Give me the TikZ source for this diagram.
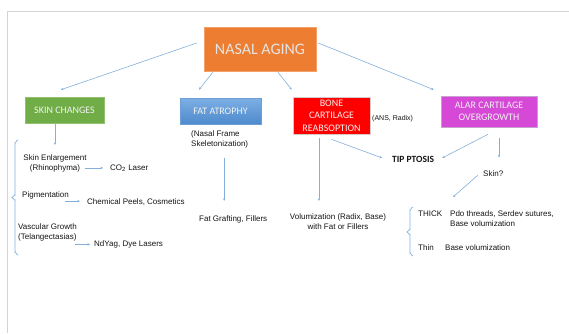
\documentclass[tikz,border=0pt]{standalone}
\usepackage{fontspec}
\setmainfont{Liberation Sans}
\newfontfamily\calib{Carlito}
\usetikzlibrary{arrows.meta,calc}
\definecolor{orangebox}{RGB}{237,125,49}
\definecolor{orangeedge}{RGB}{243,160,105}
\definecolor{greenbox}{RGB}{112,173,71}
\definecolor{greenedge}{RGB}{145,192,110}
\definecolor{fattop}{RGB}{125,175,228}
\definecolor{fatbot}{RGB}{78,138,205}
\definecolor{fatedge}{RGB}{110,160,215}
\definecolor{magbox}{RGB}{214,72,214}
\definecolor{magedge}{RGB}{200,160,205}
\definecolor{rededge}{RGB}{215,200,200}
\definecolor{boxtext}{RGB}{242,242,242}
\definecolor{natext}{RGB}{228,228,228}
\definecolor{arrowblue}{RGB}{130,175,220}
\definecolor{bodytext}{RGB}{20,20,20}
\definecolor{framec}{RGB}{212,212,212}
\tikzset{
  box/.style={draw, line width=0.6pt, inner sep=0pt, align=center, text=boxtext,
    font=\calib\fontsize{10}{12.5}\selectfont},
  txt/.style={inner sep=0pt, text=bodytext, font=\fontsize{8}{10}\selectfont},
  conn/.style={draw=arrowblue, line width=0.6pt, -{Stealth[length=2.6pt,width=2.4pt]}},
  brk/.style={draw=arrowblue, line width=0.7pt},
}
\begin{document}
\begin{tikzpicture}[x=1pt,y=-1pt]
\useasboundingbox (0,0) rectangle (569,333);
\draw[framec, line width=0.8pt] (7,333) -- (7,11) -- (569,11);

% boxes
\node[box, fill=orangebox, draw=orangeedge, minimum width=112pt, minimum height=44pt,
  text=natext, font=\calib\fontsize{16}{18}\selectfont] (na) at (260,49) {NASAL AGING};
\node[box, fill=greenbox, draw=greenedge, minimum width=79pt, minimum height=26pt] (skin) at (64.5,110) {SKIN CHANGES};
\node[box, top color=fattop, bottom color=fatbot, draw=fatedge, minimum width=81pt, minimum height=26pt] (fat) at (220.5,111) {FAT ATROPHY};
\node[box, fill=red, draw=rededge, minimum width=77pt, minimum height=37pt] (bone) at (331.5,115.5) {BONE\\CARTILAGE\\REABSOPTION};
\node[box, fill=magbox, draw=magedge, minimum width=96pt, minimum height=31pt] (alar) at (489,111.5) {ALAR CARTILAGE\\OVERGROWTH};

% texts
\node[txt, align=center, anchor=north] (se) at (55,154.6) {Skin Enlargement\\(Rhinophyma)};
\node[txt, anchor=base west] (co2) at (110,170) {CO\textsubscript{2} Laser};
\node[txt, anchor=base west] (pig) at (22,197.5) {Pigmentation};
\node[txt, anchor=base west] (chem) at (87,204.5) {Chemical Peels, Cosmetics};
\node[txt, align=left, anchor=north west] (vasc) at (18,223.6) {Vascular Growth\\(Telangectasias)};
\node[txt, anchor=base west] (nd) at (94,246.5) {NdYag, Dye Lasers};
\node[txt, align=left, anchor=north west] (nf) at (191,130.6) {(Nasal Frame\\Skeletonization)};
\node[txt, anchor=base west] (fg) at (199,221.5) {Fat Grafting, Fillers};
\node[txt, anchor=base west, font=\fontsize{7}{8}\selectfont] (ans) at (372,120.5) {(ANS, Radix)};
\node[txt, align=center, anchor=north] (vol) at (338,213.6) {Volumization (Radix, Base)\\with Fat or Fillers};
\node[txt, anchor=base west, font=\calib\bfseries\fontsize{9.5}{11}\selectfont] (tip) at (392,162) {TIP PTOSIS};
\node[txt, anchor=base west] (skq) at (483,176.5) {Skin?};
\node[txt, anchor=base west] (thick) at (418,216.5) {THICK};
\node[txt, align=left, anchor=north west] (pdo) at (450,210.6) {Pdo threads, Serdev sutures,\\Base volumization};
\node[txt, anchor=base west] (thin) at (418,250.5) {Thin};
\node[txt, anchor=base west] (thinb) at (445,250.5) {Base volumization};

% connectors
\draw[conn] ([shift={(-7,-6)}]na.west) -- ([shift={(-3.5,-7)}]skin.north);
\draw[conn] ([shift={(9,1)}]na.south west) -- ([shift={(-21.5,-8)}]fat.north);
\draw[conn] ([shift={(18,1)}]na.south) -- ([shift={(-1,-7)}]bone.north west);
\draw[conn] ([shift={(2,-6)}]na.east) -- ([shift={(-7,-6)}]alar.north west);
\draw[conn] (se.north |- skin.south) -- ([shift={(0,-9.6)}]se.north);
\draw[conn] ($(se.east |- co2.west)+(-2,0)$) -- ($(co2.west)+(-7,0)$);
\draw[conn] ($(pig.east |- chem.west)+(-4,-1)$) -- ($(chem.west)+(-7,-1)$);
\draw[conn] ($(vasc.east |- nd.west)+(-2,0)$) -- ($(nd.west)+(-4,0)$);
\draw[conn] ($(nf.south)+(4.5,9.8)$) -- ($(nf.south |- fg.north)+(4.5,-14.6)$);
\draw[conn] ([shift={(-12.5,4)}]bone.south) -- ($(bone.south |- vol.north)+(-12.5,-12.6)$);
\draw[conn] ([shift={(0,5)}]bone.south) -- ([shift={(-10,-1)}]tip.west);
\draw[conn] ([shift={(-1,7)}]alar.south) -- ([shift={(8,-1)}]tip.east);
\draw[conn] ([shift={(10,11)}]alar.south) -- ($(alar.south |- skq.north)+(10,-13)$);
\draw[conn] ([shift={(-5,1.4)}]skq.west) -- ([shift={(3,-13.6)}]pdo.north west);

% brackets
\draw[brk] (18,140) to[out=180,in=-90] (15,143) -- (15,195) to[out=90,in=0] (12,197.5)
  to[out=0,in=-90] (15,200) -- (15,252) to[out=90,in=180] (18,255);
\draw[brk] (413,207) to[out=180,in=-90] (410,210) -- (410,229.5) to[out=90,in=0] (407,232)
  to[out=0,in=-90] (410,234.5) -- (410,253) to[out=90,in=180] (413,256);
\end{tikzpicture}
\end{document}
